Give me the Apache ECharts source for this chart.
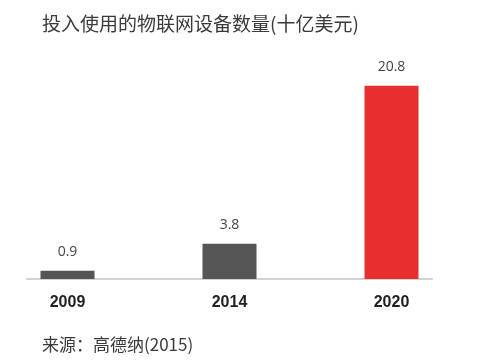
<!DOCTYPE html>
<html><head><meta charset="utf-8">
<script src="https://cdn.jsdelivr.net/npm/echarts@6/dist/echarts.min.js"></script>
<style>html,body{margin:0;padding:0;background:#fff}#c{width:482px;height:360px}</style>
</head><body><div id="c"></div>
<script>
const categories = ['2009', '2014', '2020'];
const values = [0.9, 3.8, 20.8];
const barColors = ['#555555', '#555555', '#e82f30'];
const titleText = '投入使用的物联网设备数量(十亿美元)';
const sourceText = '来源：高德纳(2015)';

const chart = echarts.init(document.getElementById('c'), null, {renderer: 'canvas'});
chart.setOption({
  backgroundColor: '#fff',
  animation: false,
  title: [
    {text: titleText, left: 37, top: 9, textStyle: {fontFamily: 'Noto Sans CJK SC', fontSize: 19, fontWeight: 'normal', color: '#3a3a3a'}},
    {text: sourceText, left: 37, top: 331, textStyle: {fontFamily: 'Noto Sans CJK SC', fontSize: 17, fontWeight: 'normal', color: '#3a3a3a'}}
  ],
  grid: {left: 27, width: 405, top: 56, height: 223},
  xAxis: {
    type: 'value', min: -0.25, max: 2.25,
    splitLine: {show: false},
    axisTick: {show: false},
    axisLine: {show: true, lineStyle: {color: '#d2d2d2', width: 2}},
    axisLabel: {
      customValues: categories.map((c, i) => i),
      formatter: v => categories[Math.round(v)] || '',
      margin: 16, fontFamily: 'Liberation Sans', fontWeight: 'bold', fontSize: 16, color: '#222'
    }
  },
  yAxis: {type: 'value', min: 0, max: 24, show: false, splitLine: {show: false}},
  series: [{
    type: 'bar', barWidth: 54,
    data: values.map((v, i) => ({value: [i, v], itemStyle: {color: barColors[i]}})),
    label: {show: true, position: 'top', distance: 12, formatter: p => p.value[1].toFixed(1),
      fontFamily: 'Open Sans', fontSize: 14, color: '#444'}
  }]
});
</script></body></html>
